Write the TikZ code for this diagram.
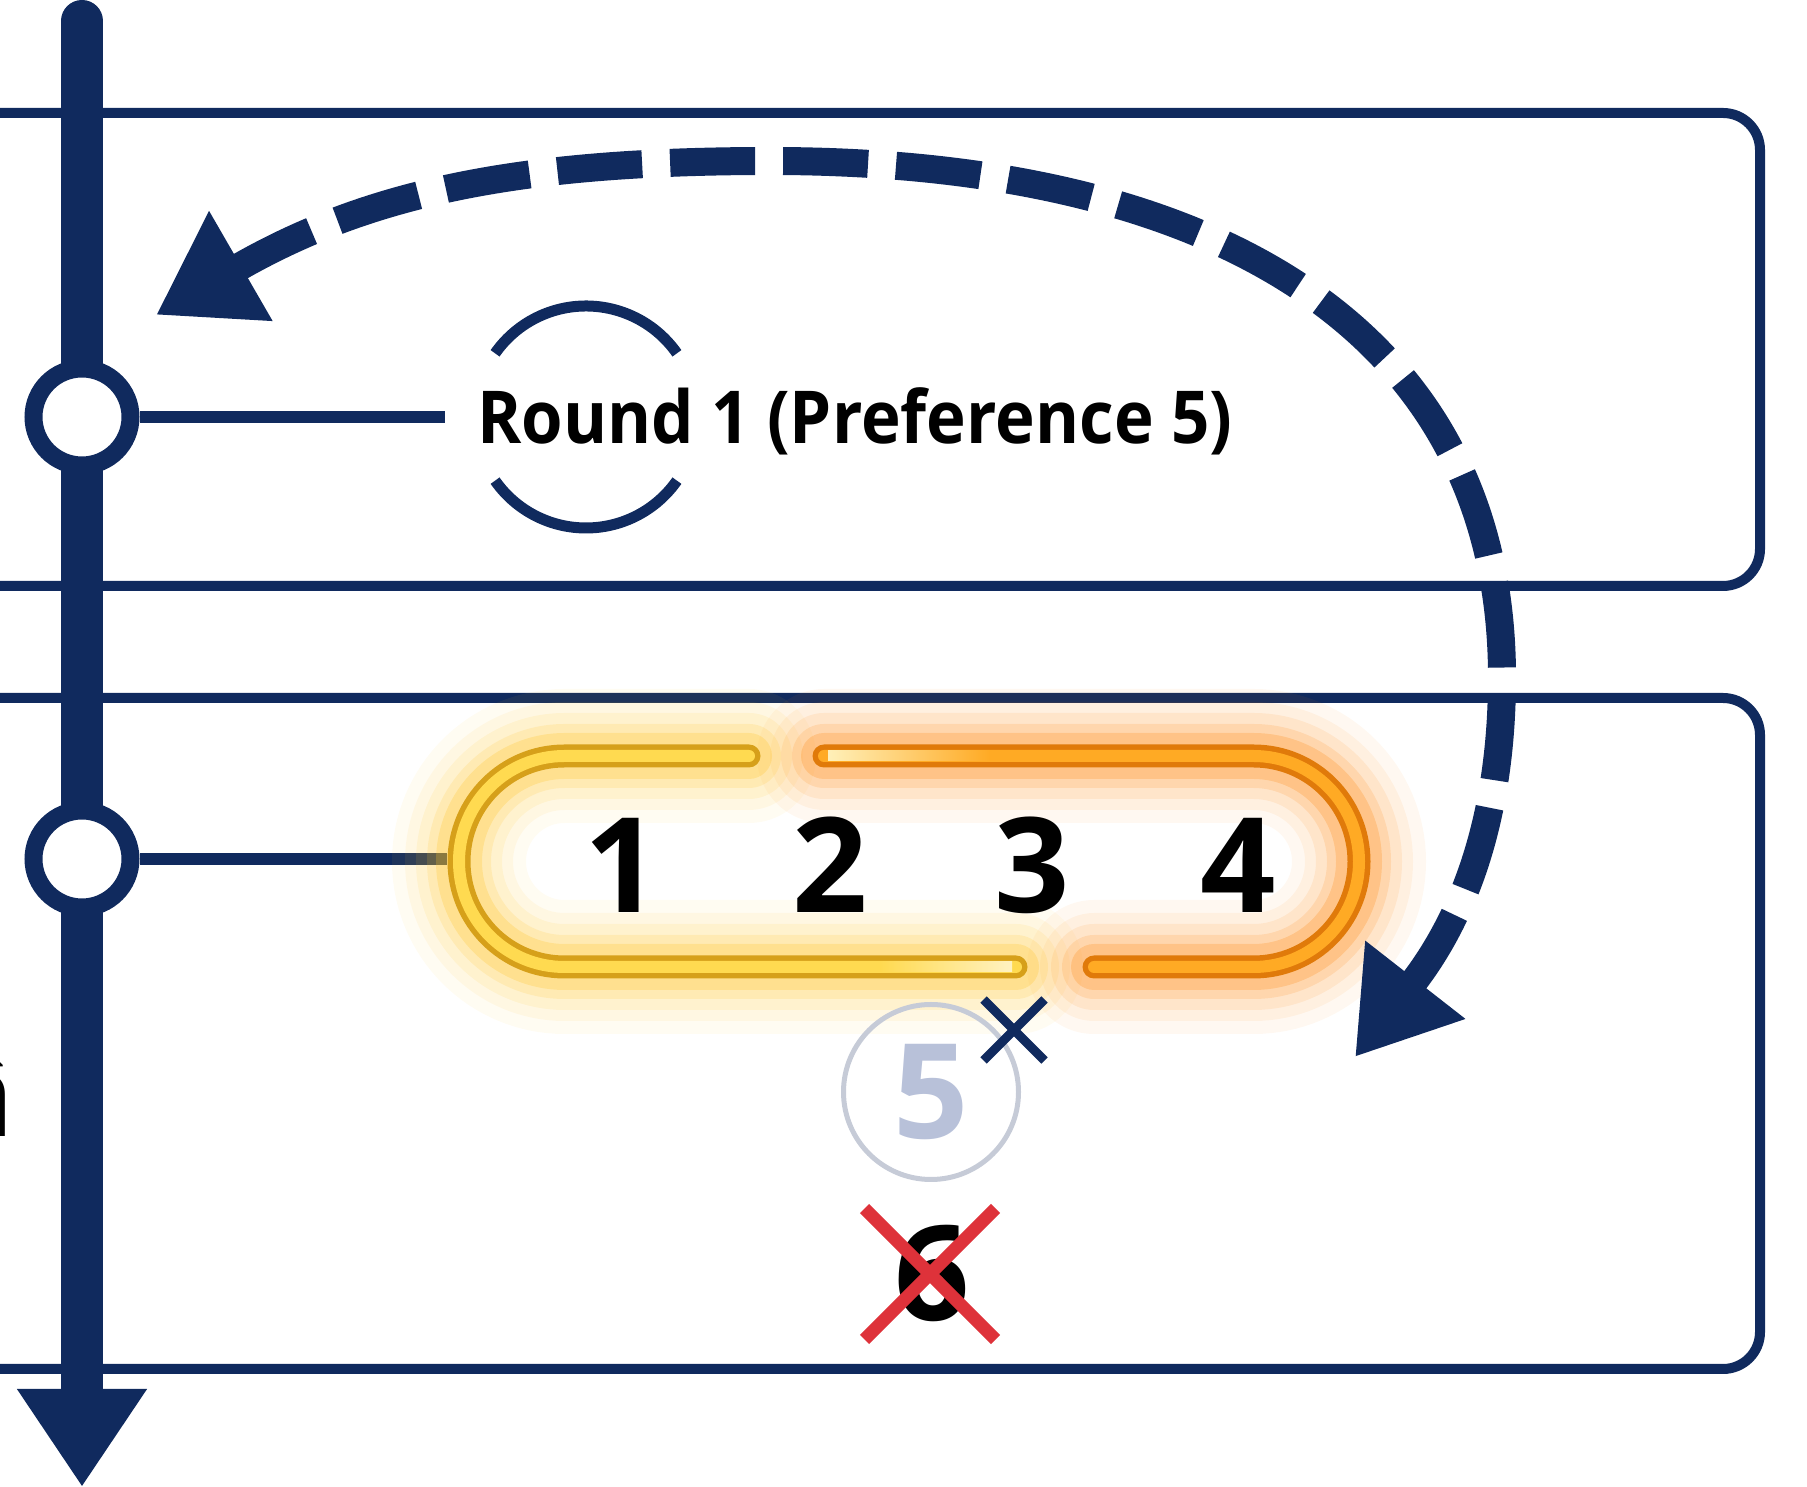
\documentclass[tikz,border=0pt]{standalone}
\usepackage{fontspec}
\setmainfont{Open Sans}
\newfontfamily\labelfont[FakeStretch=0.92]{Open Sans}
\usetikzlibrary{positioning,calc,arrows.meta,shapes.misc}
\definecolor{navy}{RGB}{16,42,94}
\definecolor{goldedge}{RGB}{214,160,26}
\definecolor{goldhi}{RGB}{255,218,80}
\definecolor{goldglow}{RGB}{255,196,40}
\definecolor{amberedge}{RGB}{224,122,10}
\definecolor{amberhi}{RGB}{255,170,36}
\definecolor{amberglow}{RGB}{255,140,24}
\definecolor{paleline}{RGB}{198,203,215}
\definecolor{paletext}{RGB}{184,193,217}
\definecolor{xred}{RGB}{222,50,58}
\tikzset{panel/.style={draw=navy, line width=10pt, rounded corners=37pt}}
\tikzset{stop/.style={circle, draw=navy, fill=white, line width=18pt, minimum size=97pt, inner sep=0pt}}
\tikzset{spoke/.style={draw=navy, line width=12pt}}
\tikzset{digit/.style={font=\bfseries\fontsize{132}{140}\selectfont, inner sep=0pt}}
\tikzset{tube/.style={line width=#1, line cap=round}}
\tikzset{hop/.style={draw=navy, line width=28pt, dash pattern=on 85pt off 28pt, {Triangle[length=98pt,width=120pt]}-{Triangle[length=98pt,width=120pt]}}}

\begin{document}
\begin{tikzpicture}[x=1pt, y=1pt]
	\useasboundingbox (0,0) rectangle (1807,1487);
	\clip (0,0) rectangle (1807,1487);
	\draw[panel] (-60,901) rectangle (1760,1374);
	\draw[panel] (-60,118) rectangle (1760,789);
	\coordinate (T) at (82,1466);
	\coordinate (B) at (82,0);
	\draw[navy, line width=42pt, line cap=round, -{Triangle[length=98pt,width=123pt]}] (T) -- (B);
	\node[stop] (S1) at (82,1070) {};
	\node[stop] (S2) at (82,628) {};
	% round label
	\node[font=\labelfont\bfseries\fontsize{73}{80}\selectfont, inner sep=0pt, anchor=base west] (R) at (477,1043) {Round 1 (Preference 5)};
	\draw[spoke] (S1) -- ($(S1 -| R.west)+(-32,0)$);
	\coordinate (A) at (586,1070);
	\draw[navy, line width=11pt] ($(A)+(35:111)$) arc[start angle=35, end angle=145, radius=111];
	\draw[navy, line width=11pt] ($(A)+(215:111)$) arc[start angle=215, end angle=325, radius=111];
	% capsule
	\node[minimum width=924pt, minimum height=233pt, inner sep=0pt] (C) at (909,625.5) {};
	\draw[spoke] (S2) -- (S2 -| C.west);
	\foreach \w/\o in {134/.06, 108/.08, 86/.11, 64/.16, 46/.26} {
		\draw[goldglow, tube=\w pt, opacity=\o] (749,731) -- (564.5,731) arc[start angle=90, end angle=270, radius=105.5] -- (1016,520);
		\draw[amberglow, tube=\w pt, opacity=\o] (824,731) -- (1253.5,731) arc[start angle=90, end angle=-90, radius=105.5] -- (1094,520);
	}
	\draw[goldedge, tube=23pt] (749,731) -- (564.5,731) arc[start angle=90, end angle=270, radius=105.5] -- (1016,520);
	\draw[amberedge, tube=23pt] (824,731) -- (1253.5,731) arc[start angle=90, end angle=-90, radius=105.5] -- (1094,520);
	\draw[goldhi, tube=12pt] (749,731) -- (564.5,731) arc[start angle=90, end angle=270, radius=105.5] -- (1016,520);
	\draw[amberhi, tube=12pt] (824,731) -- (1253.5,731) arc[start angle=90, end angle=-90, radius=105.5] -- (1094,520);
	\shade[left color=goldhi!40!white, right color=amberhi] (828,726) rectangle (990,736);
	\shade[left color=goldhi, right color=goldhi!35!white] (880,515) rectangle (1012,525);
	\foreach \n/\x in {1/622, 2/830, 3/1032, 4/1238}
		\node[digit, anchor=base] (D\n) at (\x,574) {\n};
	% dropped choices
	\node[circle, draw=paleline, line width=5pt, minimum size=175pt, digit, text=paletext] (F) at (931,395) {5};
	\node[cross out, draw=navy, line width=9pt, minimum size=52pt, inner sep=0pt] (K) at (1014,457) {};
	\node[digit] (N6) at (932,214) {6};
	\node[cross out, draw=xred, line width=13pt, minimum size=118pt, inner sep=0pt] (X6) at (930,213) {};
	\node[font=\bfseries\fontsize{115}{120}\selectfont, inner sep=0pt, anchor=base east] (V) at (14,350) {â};
	% loop back
	\coordinate (HL) at (156,1172);
	\coordinate (HT) at (770,1326);
	\coordinate (HR) at (1502,810);
	\coordinate (HE) at (1355,430);
	\draw[hop] (HL) to[out=30,in=180] (HT) .. controls (1240,1326) and (1502,1140) .. (HR) to[out=-90,in=52] (HE);
\end{tikzpicture}
\end{document}
